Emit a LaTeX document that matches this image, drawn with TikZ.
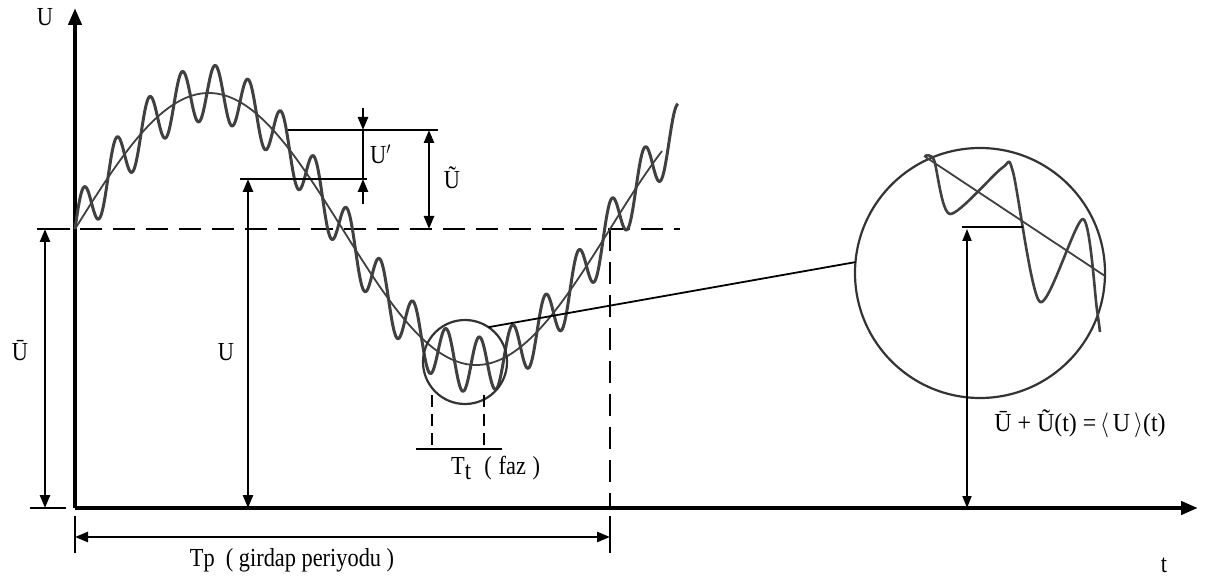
\documentclass[tikz,border=0pt]{standalone}
\usepackage{fontspec}
\setmainfont{Liberation Serif}
\usetikzlibrary{arrows.meta}
\newcommand{\sqz}[1]{\scalebox{0.86}[1]{#1}}
\begin{document}
\begin{tikzpicture}[x=1pt,y=-1pt,
  axisln/.style={line width=4.2pt},
  dimln/.style={line width=2.6pt},
  thinln/.style={line width=1.8pt},
  tipb/.style={-{Triangle[length=17pt,width=13pt]}},
  tip/.style={-{Triangle[length=13pt,width=10pt]}},
  dtip/.style={{Triangle[length=13pt,width=10pt]}-{Triangle[length=13pt,width=10pt]}},
  dashln/.style={line width=2.8pt, dash pattern=on 22pt off 11pt},
  sdashln/.style={line width=2.4pt, dash pattern=on 12pt off 7pt},
  noisy/.style={line width=3pt, draw=black!75, line join=round},
  meanln/.style={line width=1.8pt, draw=black!75},
  ring/.style={circle, draw=black!80, line width=2.2pt, inner sep=0pt, outer sep=0pt},
  lbl/.style={font=\fontsize{26}{28}\selectfont, inner sep=0pt}
]
\useasboundingbox (0,0) rectangle (1207,585);
\fill[white] (0,0) rectangle (1207,585);

% axes
\coordinate (O) at (75,508);
\coordinate (Ytop) at (75,8);
\coordinate (Xend) at (1198,508);
\draw[axisln,tipb] (O) -- (Ytop);
\draw[axisln,tipb] (O) -- (Xend);
\node[lbl] (lU) at (45,17) {\sqz{U}};
\node[lbl] (lt) at (1164,565) {\sqz{t}};

% mean level dashed line
\coordinate (D1) at (80,229);
\coordinate (D2) at (680,229);
\draw[dashln] (D1) -- (D2);
\coordinate (V1) at (610,229);
\coordinate (V2) at (610,508);
\draw[dashln] (V1) -- (V2);

% curves
\draw[meanln] plot[domain=75:662, samples=300, smooth] (\x, {229 - 136*sin(0.6729*(\x-75))});
\draw[noisy] plot[domain=75:678, samples=600, smooth] (\x, {229 - 136*sin(0.6729*(\x-75)) - 28*sin(10.909*(\x-75))});

% left U-bar dimension
\coordinate (Lt) at (45,229);
\coordinate (Lb) at (45,508);
\draw[dimln] (37,229) -- (70,229);
\draw[dimln] (30,508) -- (66,508);
\draw[dimln,dtip] (Lt) -- (Lb);
\node[lbl] (lUbar) at (20,351) {\sqz{\=U}};

% U dimension
\coordinate (Ut) at (248,179);
\coordinate (Ub) at (248,508);
\draw[dimln] (240,179) -- (367,179);
\draw[dimln] (288,130) -- (438,130);
\draw[dimln,tip] (Ub) -- (Ut);
\draw[dimln,tip] (248,340) -- (Ub);
\node[lbl] (lUU) at (226,352) {\sqz{U}};

% U' dimension
\coordinate (Pa) at (363,130);
\coordinate (Pb) at (363,179);
\draw[dimln,tip] (363,108) -- (Pa);
\draw[dimln] (Pa) -- (Pb);
\draw[dimln,tip] (363,204) -- (Pb);
\node[lbl,anchor=west] (lUp) at (370,154) {\sqz{U$'$}};

% U-tilde dimension
\coordinate (Ta) at (429,130);
\coordinate (Tb) at (429,229);
\draw[dimln,dtip] (Ta) -- (Tb);
\node[lbl] (lUt) at (452,178) {\sqz{\~U}};

% Tp dimension
\draw[dimln] (75,516) -- (75,553);
\draw[dimln] (610,516) -- (610,553);
\coordinate (Pl) at (75,537);
\coordinate (Pr) at (610,537);
\draw[dimln,dtip] (Pl) -- (Pr);
\node[lbl] (lTp) at (292,560) {\sqz{Tp~~( girdap periyodu )}};

% small circle and Tt
\node[ring, minimum size=84pt] (sc) at (465,362) {};
\draw[sdashln] (432,395) -- (432,449);
\draw[sdashln] (484,395) -- (484,449);
\draw[dimln] (416,449) -- (502,449);
\node[lbl,anchor=west] (lTt) at (451,468) {\sqz{T\raisebox{-0.45ex}{t}\hspace{0.6em}(\hspace{0.3em}faz\hspace{0.3em})}};

% big circle
\node[ring, minimum size=250pt] (bc) at (980,273) {};
\draw[thinln] (sc.56) -- (bc.175);
\draw[meanln] (924,156) -- (1105,276);
\draw[noisy, line width=2.6pt] plot[smooth, tension=0.45] coordinates {(925,156) (934,160) (950,214) (1002,168) (1013,172) (1040,302) (1083,219) (1097,310) (1100,332)};

% mean+fluct arrow
\draw[thinln] (962,227) -- (1023,227);
\coordinate (Ma) at (967,229);
\coordinate (Mb) at (967,508);
\draw[thinln,{Triangle[length=12pt,width=9pt]}-{Triangle[length=12pt,width=9pt]}] (Ma) -- (Mb);
\node[lbl] (lF) at (1080,424) {\scalebox{0.92}[1]{\=U\hspace{0.25em}+\hspace{0.25em}\~U(t)\hspace{0.25em}=\hspace{0.15em}$\langle$\,U\,$\rangle$(t)}};
\end{tikzpicture}
\end{document}
